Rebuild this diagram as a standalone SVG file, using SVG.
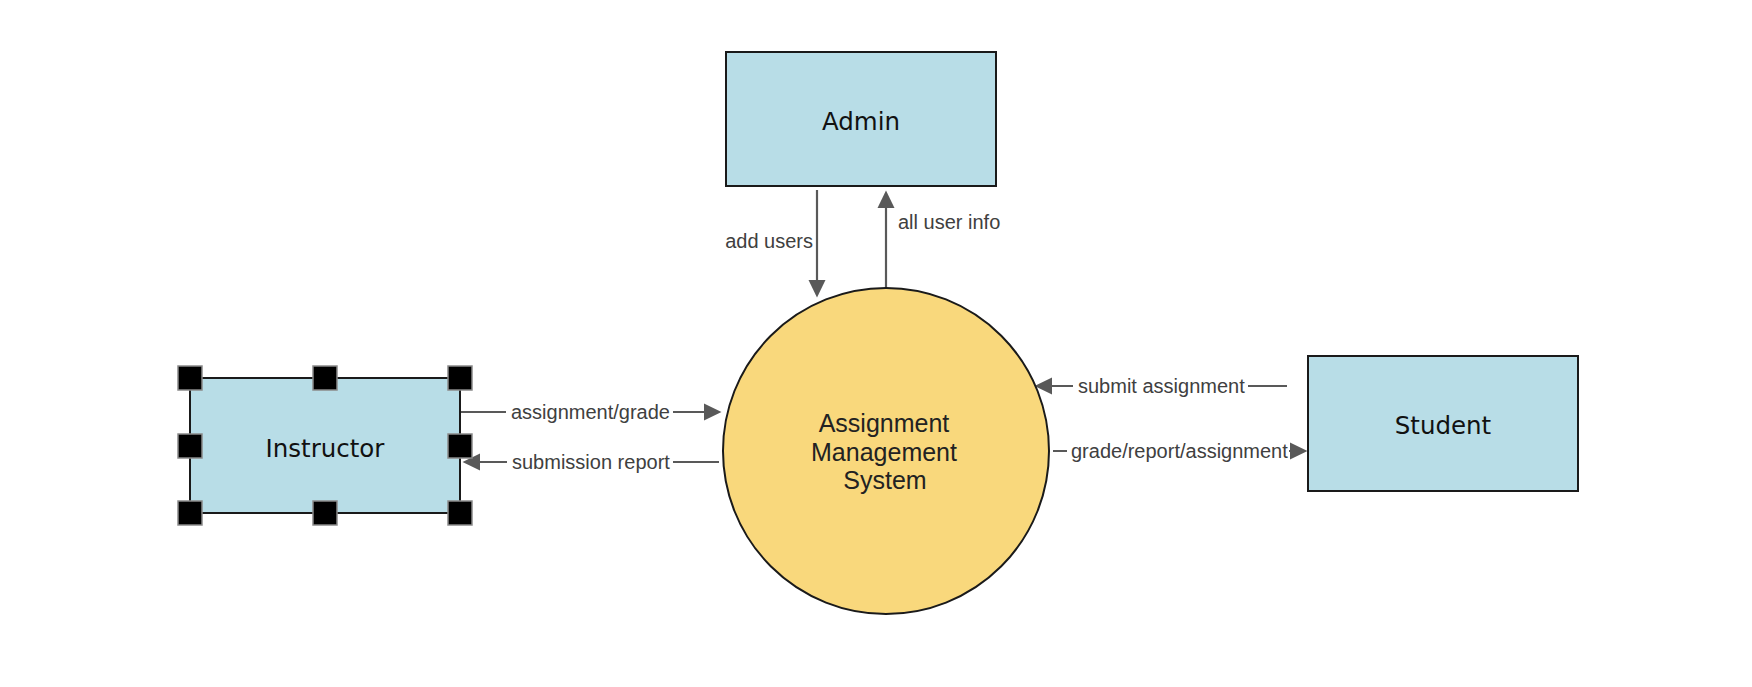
<svg xmlns="http://www.w3.org/2000/svg" width="1752" height="687" viewBox="0 0 1752 687">
<style>
.ent{fill:#b8dde7;stroke:#1a1a1a;stroke-width:2}
.proc{fill:#f9d87c;stroke:#1a1a1a;stroke-width:2}
.ntxt{font-family:"DejaVu Sans",sans-serif;font-size:24.5px;fill:#111;text-anchor:middle}
.ptxt{font-family:"Liberation Sans",Arial,sans-serif;font-size:25px;fill:#222;text-anchor:middle}
.flow{stroke:#595959;stroke-width:2.2;fill:none;marker-end:url(#arr)}
.lbl{font-family:"Liberation Sans",Arial,sans-serif;font-size:20px;fill:#404040}
.lblbg{fill:#ffffff}
.hdl{fill:#000;stroke:#8a8a8a;stroke-width:1.5}
</style>
<defs>
<marker id="arr" markerWidth="18" markerHeight="18" refX="15" refY="9" orient="auto" markerUnits="userSpaceOnUse">
<path d="M0,0.5 L17.5,9 L0,17.5 Z" fill="#595959"/>
</marker>
</defs>
<rect width="1752" height="687" fill="#ffffff"/>

<g id="connectors">
<g id="c-add-users">
<line class="flow" x1="817" y1="190" x2="817" y2="295"/>
<text class="lbl" x="813" y="248" text-anchor="end">add users</text>
</g>
<g id="c-all-user-info">
<line class="flow" x1="886" y1="288" x2="886" y2="193"/>
<text class="lbl" x="898" y="229">all user info</text>
</g>
<g id="c-assignment-grade">
<line class="flow" x1="460" y1="412" x2="719" y2="412"/>
<rect class="lblbg" x="506" y="400" width="167" height="24"/>
<text class="lbl" x="511" y="419">assignment/grade</text>
</g>
<g id="c-submission-report">
<line class="flow" x1="719" y1="462" x2="465" y2="462"/>
<rect class="lblbg" x="507" y="450" width="166" height="24"/>
<text class="lbl" x="512" y="469">submission report</text>
</g>
<g id="c-submit-assignment">
<line class="flow" x1="1287" y1="386" x2="1037" y2="386"/>
<rect class="lblbg" x="1073" y="374" width="175" height="24"/>
<text class="lbl" x="1078" y="393">submit assignment</text>
</g>
<g id="c-grade-report">
<line class="flow" x1="1053" y1="451" x2="1305" y2="451"/>
<rect class="lblbg" x="1067" y="439" width="222" height="24"/>
<text class="lbl" x="1071" y="458">grade/report/assignment</text>
</g>
</g>

<g id="admin">
<rect class="ent" x="726" y="52" width="270" height="134"/>
<text class="ntxt" x="861" y="130">Admin</text>
</g>

<g id="system">
<circle class="proc" cx="886" cy="451" r="163"/>
<text class="ptxt" x="884" y="432">Assignment</text>
<text class="ptxt" x="884" y="461">Management</text>
<text class="ptxt" x="885" y="489">System</text>
</g>

<g id="instructor">
<rect class="ent" x="190" y="378" width="270" height="135"/>
<text class="ntxt" x="325" y="457">Instructor</text>
<g id="instructor-handles">
<rect class="hdl" x="178" y="366" width="24" height="24"/>
<rect class="hdl" x="313" y="366" width="24" height="24"/>
<rect class="hdl" x="448" y="366" width="24" height="24"/>
<rect class="hdl" x="178" y="434" width="24" height="24"/>
<rect class="hdl" x="448" y="434" width="24" height="24"/>
<rect class="hdl" x="178" y="501" width="24" height="24"/>
<rect class="hdl" x="313" y="501" width="24" height="24"/>
<rect class="hdl" x="448" y="501" width="24" height="24"/>
</g>
</g>

<g id="student">
<rect class="ent" x="1308" y="356" width="270" height="135"/>
<text class="ntxt" x="1443" y="434">Student</text>
</g>
</svg>
